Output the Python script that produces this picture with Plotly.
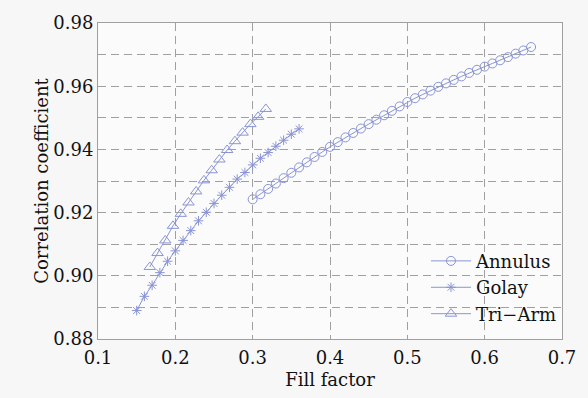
import plotly.graph_objects as go

annulus_x = [0.30, 0.31, 0.32, 0.33, 0.34, 0.35, 0.36, 0.37, 0.38, 0.39,
             0.40, 0.41, 0.42, 0.43, 0.44, 0.45, 0.46, 0.47, 0.48, 0.49,
             0.50, 0.51, 0.52, 0.53, 0.54, 0.55, 0.56, 0.57, 0.58, 0.59,
             0.60, 0.61, 0.62, 0.63, 0.64, 0.65, 0.66]
annulus_y = [0.9242, 0.9258, 0.9275, 0.9292, 0.9309, 0.9326, 0.9343, 0.9359, 0.9376, 0.9392,
             0.9408, 0.9423, 0.9438, 0.9452, 0.9466, 0.9480, 0.9494, 0.9508, 0.9522, 0.9536,
             0.9550, 0.9562, 0.9574, 0.9586, 0.9598, 0.9609, 0.9620, 0.9631, 0.9642, 0.9652,
             0.9662, 0.9672, 0.9682, 0.9692, 0.9703, 0.9713, 0.9724]

golay_x = [0.15, 0.16, 0.17, 0.18, 0.19, 0.20, 0.21, 0.22, 0.23, 0.24, 0.25,
           0.26, 0.27, 0.28, 0.29, 0.30, 0.31, 0.32, 0.33, 0.34, 0.35, 0.36]
golay_y = [0.8890, 0.8935, 0.8970, 0.9010, 0.9046, 0.9079, 0.9112, 0.9143, 0.9174, 0.9201, 0.9229,
           0.9255, 0.9280, 0.9306, 0.9327, 0.9351, 0.9372, 0.9390, 0.9410, 0.9429, 0.9448, 0.9465]

triarm_x = [0.167, 0.177, 0.187, 0.197, 0.207, 0.217, 0.227, 0.237,
            0.247, 0.257, 0.267, 0.277, 0.287, 0.297, 0.307, 0.317]
triarm_y = [0.9028, 0.9072, 0.9112, 0.9158, 0.9196, 0.9232, 0.9267, 0.9302,
            0.9334, 0.9368, 0.9398, 0.9426, 0.9453, 0.9480, 0.9503, 0.9528]

x_ticks = [0.1, 0.2, 0.3, 0.4, 0.5, 0.6, 0.7]
y_ticks = [0.88, 0.90, 0.92, 0.94, 0.96, 0.98]

color = "rgb(138,148,212)"
font_family = "DejaVu Serif"

fig = go.Figure()
fig.add_trace(go.Scatter(x=annulus_x, y=annulus_y, name="Annulus", mode="lines+markers",
                         line=dict(color=color, width=1),
                         marker=dict(symbol="circle-open", size=9, color=color, line=dict(width=1))))
fig.add_trace(go.Scatter(x=golay_x, y=golay_y, name="Golay", mode="lines+markers",
                         line=dict(color=color, width=1),
                         marker=dict(symbol="asterisk-open", size=8, color=color, line=dict(width=1))))
fig.add_trace(go.Scatter(x=triarm_x, y=triarm_y, name="Tri\u2212Arm", mode="lines+markers",
                         line=dict(color=color, width=1),
                         marker=dict(symbol="triangle-up-open", size=10, color=color, line=dict(width=1))))

axis_common = dict(showline=True, linecolor="#a0a0a0", linewidth=1, mirror=True,
                   ticks="", zeroline=False,
                   gridcolor="#a0a0a0", gridwidth=1, griddash="8px,5px",
                   tickfont=dict(family=font_family, size=18, color="#111"))

fig.update_layout(
    width=588, height=398,
    margin=dict(l=98, r=26, t=13, b=56),
    paper_bgcolor="#f7f7f7", plot_bgcolor="#fbfbfb",
    font=dict(family=font_family, size=18, color="#111"),
    showlegend=True,
    legend=dict(x=1.0, y=0.02, xanchor="right", yanchor="bottom",
                bgcolor="rgba(0,0,0,0)", font=dict(family=font_family, size=18),
                tracegroupgap=0, itemwidth=40),
    xaxis=dict(range=[0.1, 0.7], tickvals=x_ticks, ticktext=[f"{v:.1f}" for v in x_ticks],
               ticklabelstandoff=2,
               title=dict(text="Fill factor", font=dict(size=18), standoff=6), **axis_common),
    yaxis=dict(range=[0.88, 0.98], tickvals=y_ticks, ticktext=[f"{v:.2f}" for v in y_ticks],
               title=dict(text="Correlation coefficient", font=dict(size=18), standoff=0),
               minor=dict(dtick=0.01, showgrid=True, gridcolor="#a0a0a0", griddash="8px,5px", gridwidth=1),
               **axis_common),
)

fig.write_html("out.html")
